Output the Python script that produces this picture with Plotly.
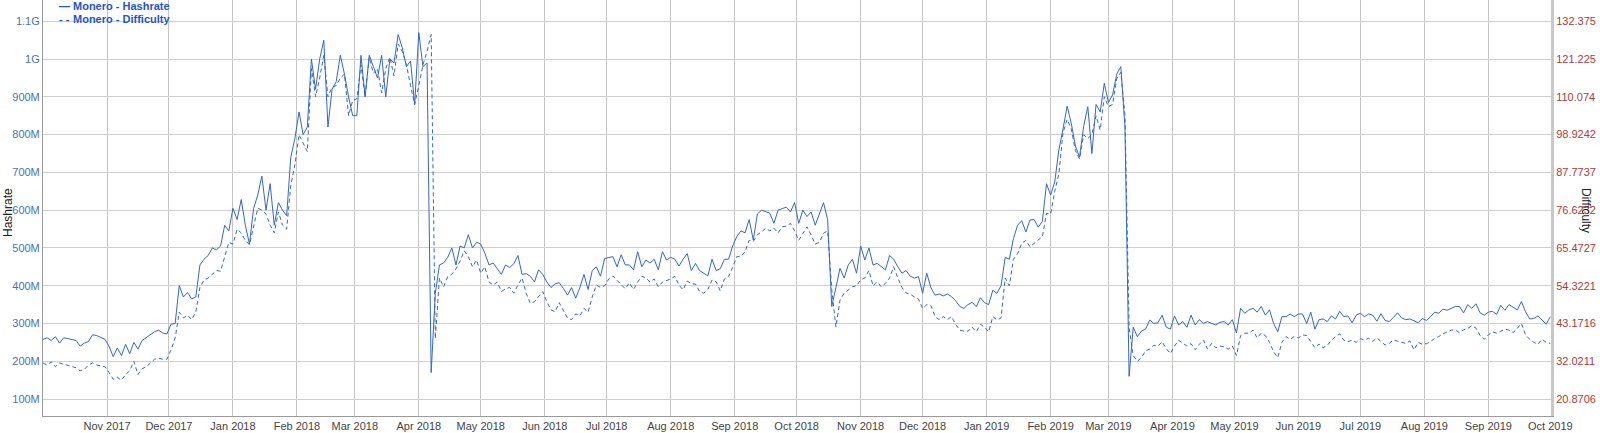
import pandas as pd
import plotly.graph_objects as go

# ---- data (one value every 2 days from 2017-10-01) ----
start_date = "2017-10-01"
step = "2D"

# Hashrate in MH/s
hashrate_a = [258,262,255,265,248,262,260,258,255,240,248,252,270,268,262,258,240,212,235,215,245,220,250,232,255,262,270,278,282,275,272,298,300,400,370,382,365,370,455,470,480,500,495,505,560,545,605,575,628,560,510,605,640,690,600,670,560,620,600,585,740]
hashrate_b = [790,860,800,820,1000,920,1000,1050,820,920,940,1010,960,900,850,850,1010,900,1010,980,950,1010,900,1000,990,1065,1030,980,995,880,1070,980,990,170,380,455,460,475,500,455,505,500,535,500,515,510,486,455,460,445,430,455,448,458,480,430,432,425,410,442,430]
hashrate_c = [410,395,405,408,393,375,395,367,395,430,390,440,450,425,472,474,477,450,482,455,455,442,490,450,468,460,470,442,490,468,475,470,452,470,485,440,459,440,432,426,470,440,445,470,470,505,530,545,540,575,521,590,600,595,592,565,600,604,608,595,620]
hashrate_d = [565,600,583,595,560,588,620,575,345,395,446,420,455,470,433,505,468,500,455,459,450,442,480,470,450,433,440,425,420,424,380,433,395,375,378,373,378,371,360,345,340,350,356,344,368,355,350,388,380,400,475,470,525,560,572,542,574,575,555,570,670]
hashrate_e = [640,675,760,815,875,830,770,740,822,874,750,880,860,936,885,905,960,980,820,160,290,265,280,285,309,300,302,322,290,285,320,296,305,290,322,296,310,300,305,300,296,303,305,296,310,275,340,327,336,340,330,345,322,336,300,278,318,318,325,318,325]
hashrate_f = [325,300,330,285,310,312,305,320,312,332,318,320,302,322,327,318,325,322,306,326,308,305,316,328,315,310,312,307,302,313,308,318,330,327,338,335,340,345,345,328,350,340,352,328,322,330,332,324,348,335,350,342,336,358,331,312,313,320,310,298,318]

# Difficulty in G
difficulty_a = [31.5,30.9,31.8,30.4,31.5,31.1,30.9,30.5,30.1,29.2,29.6,30.9,31.5,30.9,30.7,30.4,28.7,26.7,27.3,26.4,28.1,29.2,32.0,28.1,29.8,30.4,31.5,32.6,32.9,32.6,32.6,35.4,38.9,46.5,44.8,45.6,44.3,46.5,53.8,56.0,56.6,57.7,58.8,58.6,63.2,67.1,66.6,71.0,69.9,67.7,66.4,72.2,77.2,76.6,75.5,72.2,69.9,76.1,72.2,71.0,83.9]
difficulty_b = [90.0,98.9,96.4,93.9,118.4,110.1,115.6,122.3,110.1,112.9,113.4,115.6,116.8,104.5,109.0,109.5,119.5,110.1,121.8,117.0,118.4,111.2,118.4,121.8,116.2,125.7,123.5,119.5,113.4,107.8,113.4,119.5,123.5,128.5,38.7,56.6,54.0,57.0,57.7,59.3,61.6,64.6,62.9,59.9,61.9,58.0,59.9,55.4,54.5,55.4,52.6,53.4,53.8,52.1,54.5,56.6,52.1,49.1,49.6,51.1,52.6]
difficulty_c = [49.6,47.2,46.6,49.3,47.0,44.8,44.3,46.0,45.4,47.6,46.5,51.0,54.5,53.8,54.3,56.3,57.2,56.0,54.8,53.4,55.2,53.2,55.4,57.1,56.6,55.4,56.3,54.0,55.4,55.8,56.3,57.1,54.5,53.1,55.7,54.9,54.8,52.6,52.1,53.2,56.0,55.5,52.8,56.3,57.0,59.7,62.9,62.9,64.4,67.7,67.4,69.4,70.2,71.3,70.5,71.3,69.9,71.7,71.9,72.7,70.5]
difficulty_d = [67.7,69.8,71.7,69.3,66.6,67.1,69.8,70.5,53.2,42.1,50.1,52.1,53.1,54.0,54.3,56.0,56.6,58.8,54.3,55.5,54.0,55.0,56.6,59.9,56.6,53.8,52.2,51.8,51.0,50.4,47.6,48.7,48.5,45.2,44.3,45.2,44.3,45.2,42.9,41.2,40.9,40.9,42.1,40.7,42.9,42.1,40.7,45.2,44.2,44.8,56.6,54.3,62.1,63.8,66.8,67.7,65.8,66.8,67.7,68.8,75.7]
difficulty_e = [75.5,82.2,87.4,99.5,103.4,100.6,94.2,91.7,98.9,97.8,98.9,104.5,100.3,110.1,107.2,107.8,115.4,117.3,104.5,42.1,33.7,32.0,33.1,35.1,35.6,36.7,36.5,37.8,35.7,34.3,36.5,38.2,37.3,36.5,37.2,35.4,37.0,38.3,35.6,37.3,36.0,36.5,36.3,35.6,36.5,33.7,39.6,40.3,40.3,41.2,38.9,40.3,39.6,37.6,34.8,33.1,37.6,39.3,38.5,39.3,38.9]
difficulty_f = [39.8,39.6,37.6,36.0,37.1,36.0,36.7,38.2,39.3,40.1,38.2,37.8,38.2,37.6,38.7,38.3,38.8,37.9,38.9,37.8,36.8,37.3,38.3,37.9,37.5,37.3,38.0,35.4,37.6,37.0,37.2,37.8,38.8,39.3,40.1,40.6,41.2,41.3,40.4,41.3,41.7,42.5,41.8,39.6,38.5,39.8,40.7,40.3,40.9,41.5,41.2,40.5,41.7,43.2,39.8,38.5,37.6,37.0,38.5,37.6,37.3]

hash_ticks = [100, 200, 300, 400, 500, 600, 700, 800, 900, 1000, 1100]
hash_tick_labels = ["100M", "200M", "300M", "400M", "500M", "600M", "700M", "800M", "900M", "1G", "1.1G"]
diff_ticks = [20.8706, 32.0211, 43.1716, 54.3221, 65.4727, 76.6232, 87.7737, 98.9242, 110.074, 121.225, 132.375]
diff_tick_labels = ["20.8706", "32.0211", "43.1716", "54.3221", "65.4727", "76.6232", "87.7737", "98.9242", "110.074", "121.225", "132.375"]
month_ticks = pd.date_range("2017-11-01", "2019-10-01", freq="MS")

hashrate = hashrate_a + hashrate_b + hashrate_c + hashrate_d + hashrate_e + hashrate_f
difficulty = difficulty_a + difficulty_b + difficulty_c + difficulty_d + difficulty_e + difficulty_f
hash_dates = pd.date_range(start_date, periods=len(hashrate), freq=step)
diff_dates = pd.date_range(start_date, periods=len(difficulty), freq=step)

# ---- figure ----
W, H = 1600, 433
ML, MR, MT, MB = 43, 49, 0, 17
PW, PH = W - ML - MR, H - MT - MB
LINE = "#3366cc"
FONT = "Arial, Liberation Sans, sans-serif"

fig = go.Figure()
fig.add_trace(go.Scatter(x=hash_dates, y=hashrate, mode="lines", name="Monero - Hashrate",
                         line=dict(color=LINE, width=1), yaxis="y", showlegend=False))
fig.add_trace(go.Scatter(x=diff_dates, y=difficulty, mode="lines", name="Monero - Difficulty",
                         line=dict(color=LINE, width=1, dash="4px,3px"), yaxis="y2", showlegend=False))

def px_x(p):
    return (p - ML) / PW

def px_y(p):
    return 1 - (p - MT) / PH

annotations = [
    dict(text="<b>—</b>", x=px_x(57), y=px_y(5.5), xanchor="left", yanchor="middle",
         font=dict(size=11, color="#1f55d0", family=FONT)),
    dict(text="<b>Monero - Hashrate</b>", x=px_x(71), y=px_y(5.5), xanchor="left", yanchor="middle",
         font=dict(size=11, color="#1f55d0", family=FONT)),
    dict(text="<b>- -</b>", x=px_x(57), y=px_y(18.5), xanchor="left", yanchor="middle",
         font=dict(size=11, color="#1f55d0", family=FONT)),
    dict(text="<b>Monero - Difficulty</b>", x=px_x(71), y=px_y(18.5), xanchor="left", yanchor="middle",
         font=dict(size=11, color="#1f55d0", family=FONT)),
    dict(text="Hashrate", x=px_x(8), y=px_y(213), textangle=-90, xanchor="center", yanchor="middle",
         font=dict(size=12, color="#222222", family=FONT)),
    dict(text="Difficulty", x=px_x(1586), y=px_y(210), textangle=90, xanchor="center", yanchor="middle",
         font=dict(size=12, color="#222222", family=FONT)),
]
for a in annotations:
    a.update(xref="paper", yref="paper", showarrow=False)

fig.update_layout(
    width=W, height=H,
    margin=dict(l=ML, r=MR, t=MT, b=MB, pad=0),
    paper_bgcolor="white", plot_bgcolor="white",
    font=dict(family=FONT, size=11, color="#444444"),
    showlegend=False,
    annotations=annotations,
    xaxis=dict(
        type="date",
        range=["2017-10-01", "2019-10-01 08:00"],
        tickvals=month_ticks, tickformat="%b %Y",
        showgrid=True, gridcolor="#c4c4c4", gridwidth=1,
        showline=True, linecolor="#9a9a9a", linewidth=1,
        ticks="", tickfont=dict(size=11, color="#444444", family=FONT),
        zeroline=False, fixedrange=True,
    ),
    yaxis=dict(
        range=[55.0, 1156.4],
        tickvals=hash_ticks, ticktext=hash_tick_labels,
        showgrid=True, gridcolor="#cfcfcf", gridwidth=1,
        showline=True, linecolor="#9a9a9a", linewidth=1,
        ticks="", tickfont=dict(size=11, color="#4a72b0", family=FONT),
        zeroline=False,
    ),
    yaxis2=dict(
        overlaying="y", side="right",
        range=[15.852, 138.66],
        tickvals=diff_ticks, ticktext=diff_tick_labels,
        showgrid=False,
        showline=True, linecolor="#c8c8c8", linewidth=3,
        ticks="", tickfont=dict(size=11, color="#b03a3a", family=FONT),
        zeroline=False,
    ),
)

fig.write_html(
    "out.html",
    config={"displayModeBar": False},
    post_script="document.body.style.margin='0';document.body.style.overflow='hidden';",
)
